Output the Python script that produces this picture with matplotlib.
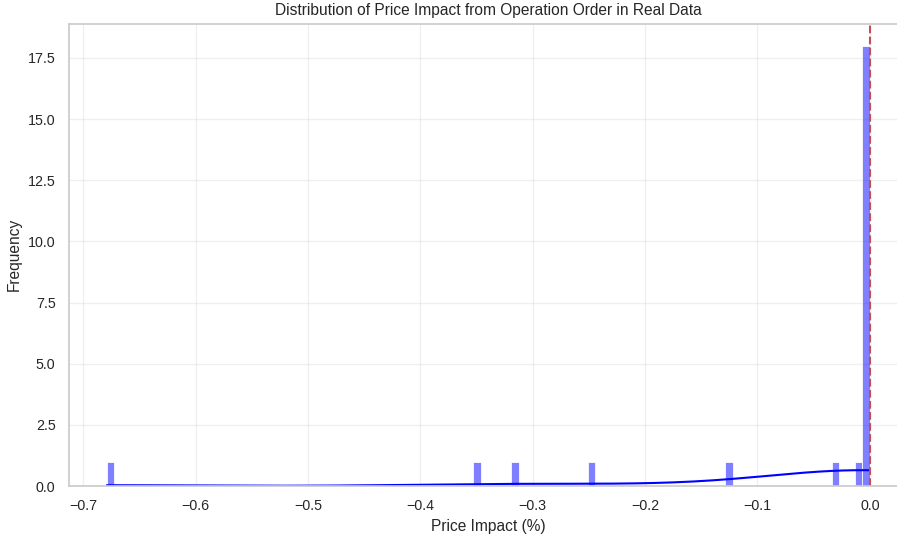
import matplotlib
matplotlib.use("Agg")
import matplotlib.pyplot as plt
import seaborn as sns
import pandas as pd

sns.set_theme(style="whitegrid")
plt.rcParams['font.family'] = ['Liberation Sans', 'DejaVu Sans']
plt.rcParams['xtick.labelsize'] = 10.3
plt.rcParams['ytick.labelsize'] = 10.3

# price impact values (%)
outliers = [-0.679, -0.347, -0.318, -0.245, -0.128, -0.033, -0.011]
near_zero = [-0.006, -0.005, -0.005, -0.004, -0.004, -0.003, -0.003, -0.003, -0.002,
             -0.002, -0.002, -0.002, -0.001, -0.001, -0.001, -0.001, -0.0005, 0.0]
impact = pd.Series(outliers + near_zero, name="impact")

fig = plt.figure(figsize=(8.97, 5.34), dpi=100)
ax = fig.add_axes([68.7 / 897, 48 / 534, (908 - 68.7) / 897, (486 - 23.7) / 534])

sns.histplot(impact, bins=100, kde=True, color='blue', alpha=0.5,
             line_kws={'linewidth': 1.5}, ax=ax)
ax.lines[0].set_color('blue')
ax.axvline(0, color='r', linestyle='--', linewidth=1.5)

ax.set_title('Distribution of Price Impact from Operation Order in Real Data', fontsize=11.2)
ax.set_xlabel('Price Impact (%)', fontsize=11.2)
ax.set_ylabel('Frequency', fontsize=11.2)
ax.grid(True, alpha=0.3)

fig.savefig('out.png', dpi=100)
